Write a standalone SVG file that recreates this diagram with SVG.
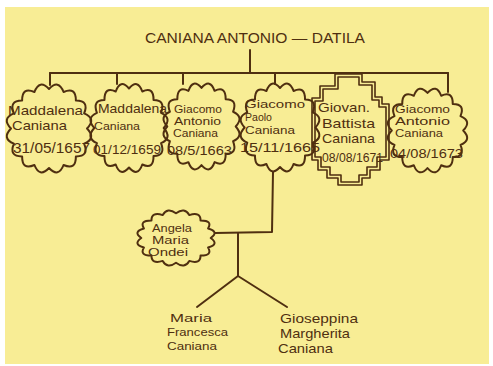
<svg xmlns="http://www.w3.org/2000/svg" xmlns:xlink="http://www.w3.org/1999/xlink" width="493" height="366" viewBox="0 0 493 366">
<style>
.ink{fill:none;stroke:#4f2f10;stroke-width:2;stroke-linejoin:round;stroke-linecap:round}
.cl{fill:none;stroke:#4f2f10;stroke-width:2;vector-effect:non-scaling-stroke;stroke-linejoin:round}
.st{fill:none;stroke:#4f2f10;stroke-width:1.6;stroke-linejoin:round}
text{font-family:"Liberation Sans",Arial,sans-serif;fill:#4f2f10}
.n{font-size:13px}
.m{font-size:11px}
.s{font-size:10px}
.d{font-size:14px}
</style>
<defs>
<path id="cloud" class="cl" d="M1,0 Q1.256,0.25 0.924,0.383 Q1.064,0.711 0.707,0.707 Q0.711,1.064 0.383,0.924 Q0.25,1.256 0,1 Q-0.25,1.256 -0.383,0.924 Q-0.711,1.064 -0.707,0.707 Q-1.064,0.711 -0.924,0.383 Q-1.256,0.25 -1,0 Q-1.256,-0.25 -0.924,-0.383 Q-1.064,-0.711 -0.707,-0.707 Q-0.711,-1.064 -0.383,-0.924 Q-0.25,-1.256 0,-1 Q0.25,-1.256 0.383,-0.924 Q0.711,-1.064 0.707,-0.707 Q1.064,-0.711 0.924,-0.383 Q1.256,-0.25 1,0 Z"/>
</defs>
<rect x="0" y="0" width="493" height="366" fill="#ffffff"/>
<rect x="5" y="7" width="484" height="357" fill="#f8ed95"/>

<g id="connectors" class="ink">
<line x1="250" y1="50" x2="250" y2="73"/>
<line x1="50" y1="73" x2="448" y2="73"/>
<line x1="50" y1="73" x2="50" y2="85"/>
<line x1="117" y1="73" x2="117" y2="84"/>
<line x1="183" y1="73" x2="183" y2="84"/>
<line x1="275" y1="73" x2="275" y2="84"/>
<line x1="448" y1="73" x2="448" y2="92"/>
<polyline points="273,172 272,232 215,233"/>
<line x1="238" y1="233" x2="238" y2="276"/>
<line x1="238" y1="276" x2="197" y2="307"/>
<line x1="238" y1="276" x2="287" y2="307"/>
</g>

<g id="title">
<text x="145" y="43" font-size="15" textLength="220" lengthAdjust="spacingAndGlyphs">CANIANA ANTONIO — DATILA</text>
</g>

<g id="node-maddalena-1657">
<use xlink:href="#cloud" transform="translate(49,128.5) scale(38,39.5)"/>
<text class="n" x="8" y="115" textLength="75" lengthAdjust="spacingAndGlyphs">Maddalena</text>
<text class="n" x="12" y="130" textLength="55" lengthAdjust="spacingAndGlyphs">Caniana</text>
<text class="d" x="13" y="153" textLength="77" lengthAdjust="spacingAndGlyphs">31/05/1657</text>
</g>

<g id="node-maddalena-1659">
<use xlink:href="#cloud" transform="translate(129,128) scale(34.7,39.5)"/>
<text class="n" x="98" y="113" textLength="69" lengthAdjust="spacingAndGlyphs">Maddalena</text>
<text class="m" x="94" y="130" textLength="46" lengthAdjust="spacingAndGlyphs">Caniana</text>
<text class="n" x="93" y="154" textLength="68" lengthAdjust="spacingAndGlyphs">01/12/1659</text>
</g>

<g id="node-giacomo-antonio-1663">
<use xlink:href="#cloud" transform="translate(201.5,126.5) scale(34.2,38.6)"/>
<text class="s" x="174" y="113" textLength="48" lengthAdjust="spacingAndGlyphs">Giacomo</text>
<text class="s" x="174" y="125" textLength="47" lengthAdjust="spacingAndGlyphs">Antonio</text>
<text class="s" x="173" y="137" textLength="45" lengthAdjust="spacingAndGlyphs">Caniana</text>
<text class="n" x="167" y="155" textLength="65" lengthAdjust="spacingAndGlyphs">08/5/1663</text>
</g>

<g id="node-giacomo-paolo-1665">
<use xlink:href="#cloud" transform="translate(280,127.5) scale(35.4,39.5)"/>
<text class="m" x="245" y="108" textLength="60" lengthAdjust="spacingAndGlyphs">Giacomo</text>
<text class="m" x="245" y="121" textLength="27" lengthAdjust="spacingAndGlyphs">Paolo</text>
<text class="m" x="245" y="134" textLength="50" lengthAdjust="spacingAndGlyphs">Caniana</text>
<text class="n" x="240" y="152" textLength="80" lengthAdjust="spacingAndGlyphs">15/11/1665</text>
</g>

<g id="node-giovan-battista-1671">
<polygon class="st" points="335,74 362,74 362,82 375,82 375,97 382,97 382,104 389,104 389,160 380,160 380,170 370,170 370,178 362,178 362,185 338,185 338,178 327,178 327,170 318,170 318,160 312,160 312,98 320,98 320,86 335,86" fill="#f8ed95"/>
<polygon class="st" points="338,77 359,77 359,85 372,85 372,100 379,100 379,107 386,107 386,157 377,157 377,167 367,167 367,175 359,175 359,182 341,182 341,175 330,175 330,167 321,167 321,157 315,157 315,101 323,101 323,89 338,89"/>
<text class="n" x="318" y="112" textLength="52" lengthAdjust="spacingAndGlyphs">Giovan.</text>
<text class="n" x="322" y="128" textLength="53" lengthAdjust="spacingAndGlyphs">Battista</text>
<text class="n" x="322" y="143" textLength="53" lengthAdjust="spacingAndGlyphs">Caniana</text>
<text class="n" x="322" y="162" textLength="61" lengthAdjust="spacingAndGlyphs">08/08/1671</text>
</g>

<g id="node-giacomo-antonio-1673">
<use xlink:href="#cloud" transform="translate(427.5,130.5) scale(35.7,37.6)"/>
<text class="s" x="395" y="113" textLength="55" lengthAdjust="spacingAndGlyphs">Giacomo</text>
<text class="s" x="395" y="125" textLength="55" lengthAdjust="spacingAndGlyphs">Antonio</text>
<text class="s" x="395" y="137" textLength="48" lengthAdjust="spacingAndGlyphs">Caniana</text>
<text class="n" x="390" y="158" textLength="73" lengthAdjust="spacingAndGlyphs">04/08/1673</text>
</g>

<g id="node-angela-maria-ondei">
<use xlink:href="#cloud" transform="translate(176,238) scale(34.7,24.8)"/>
<text class="s" x="152" y="232" textLength="40" lengthAdjust="spacingAndGlyphs">Angela</text>
<text class="s" x="152" y="244" textLength="37" lengthAdjust="spacingAndGlyphs">Maria</text>
<text class="s" x="148" y="256" textLength="40" lengthAdjust="spacingAndGlyphs">Ondei</text>
</g>

<g id="node-maria-francesca">
<text class="m" x="170" y="322" textLength="42" lengthAdjust="spacingAndGlyphs">Maria</text>
<text class="m" x="167" y="336" textLength="61" lengthAdjust="spacingAndGlyphs">Francesca</text>
<text class="m" x="167" y="350" textLength="50" lengthAdjust="spacingAndGlyphs">Caniana</text>
</g>

<g id="node-gioseppina-margherita">
<text class="n" x="280" y="323" textLength="78" lengthAdjust="spacingAndGlyphs">Gioseppina</text>
<text class="n" x="280" y="338" textLength="70" lengthAdjust="spacingAndGlyphs">Margherita</text>
<text class="n" x="278" y="353" textLength="55" lengthAdjust="spacingAndGlyphs">Caniana</text>
</g>
</svg>
